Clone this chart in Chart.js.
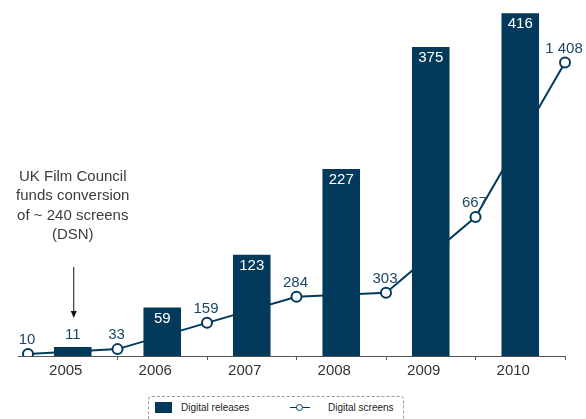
<!DOCTYPE html>
<html>
<head>
<meta charset="utf-8">
<script src="https://cdn.jsdelivr.net/npm/chart.js@4/dist/chart.umd.min.js"></script>
<style>
    body { margin: 0; background: #fff; font-family: "Liberation Sans", Arial, sans-serif; }
    #wrap { position: relative; width: 586px; height: 419px; overflow: hidden; }
    #grafico { position: absolute; left: 0; top: 0; }
    .legenda {
        position: absolute; left: 148px; top: 396px; width: 256px; height: 30px;
        border: 1px dashed #9a9a9a; border-radius: 4px; box-sizing: border-box;
        font-size: 10px; color: #222;
    }
    .legenda .item { position: absolute; top: 5px; height: 11px; line-height: 11px; }
    .swatch { position: absolute; left: 6px; top: 5px; width: 17px; height: 11px; background: #033a5b; }
    .linha { position: absolute; left: 141px; top: 10px; width: 20px; height: 1px; background: #033a5b; }
    .bola { position: absolute; left: 147px; top: 7px; width: 5px; height: 5px; border: 1px solid #033a5b; border-radius: 50%; background: #fff; }
</style>
</head>
<body>
<div id="wrap">
    <canvas id="grafico" width="586" height="390"></canvas>
    <div class="legenda">
        <div class="swatch"></div>
        <div class="item" style="left:32px">Digital releases</div>
        <div class="linha"></div>
        <div class="bola"></div>
        <div class="item" style="left:179px">Digital screens</div>
    </div>
</div>
<script>
// Dados
const anos = ['2005', '2006', '2007', '2008', '2009', '2010'];
const lancamentosDigitais = [11, 59, 123, 227, 375, 416];
const pontosTelas = ['', '', '', '', '', '', ''];
const telasDigitais = [10, 33, 159, 284, 303, 667, 1408];
const rotulosTelas = ['10', '33', '159', '284', '303', '667', '1 408'];
const notaTexto = ['UK Film Council', 'funds conversion', 'of ~ 240 screens', '(DSN)'];

const AZUL = '#033a5b';
const FONTE = '"Liberation Sans", Arial, sans-serif';

// Rótulos dos valores e nota
const pluginRotulos = {
    id: 'rotulos',
    afterDatasetsDraw(chart) {
        const ctx = chart.ctx;
        ctx.save();
        ctx.font = '15px ' + FONTE;
        ctx.textAlign = 'center';
        ctx.textBaseline = 'middle';

        // barras
        chart.getDatasetMeta(0).data.forEach((bar, i) => {
            const altura = bar.base - bar.y;
            if (altura < 25) {
                ctx.fillStyle = '#1a4766';
                ctx.fillText(String(lancamentosDigitais[i]), bar.x, bar.y - 12);
            } else {
                ctx.fillStyle = '#ffffff';
                ctx.fillText(String(lancamentosDigitais[i]), bar.x, bar.y + 11);
            }
        });

        // linha
        ctx.fillStyle = '#1a4766';
        chart.getDatasetMeta(1).data.forEach((pt, i) => {
            ctx.fillText(rotulosTelas[i], pt.x - 1, pt.y - 14);
        });

        // eixo x estendido
        const area = chart.chartArea;
        ctx.strokeStyle = '#555';
        ctx.lineWidth = 1;
        ctx.beginPath();
        ctx.moveTo(area.left - 10, area.bottom + 0.5);
        ctx.lineTo(area.right, area.bottom + 0.5);
        ctx.stroke();

        // nota UK Film Council
        const x = chart.scales.x.getPixelForValue(0);
        ctx.fillStyle = '#3c3c3c';
        notaTexto.forEach((t, i) => ctx.fillText(t, x, 177 + i * 19.3));
        ctx.strokeStyle = '#111';
        ctx.beginPath();
        ctx.moveTo(x + 1, 267);
        ctx.lineTo(x + 1, 315);
        ctx.stroke();
        ctx.fillStyle = '#111';
        ctx.beginPath();
        ctx.moveTo(x - 2, 311);
        ctx.lineTo(x + 4, 311);
        ctx.lineTo(x + 1, 318);
        ctx.closePath();
        ctx.fill();
        ctx.restore();
    }
};

new Chart(document.getElementById('grafico'), {
    type: 'bar',
    data: {
        labels: anos,
        datasets: [{
            type: 'bar',
            label: 'Digital releases',
            data: lancamentosDigitais,
            backgroundColor: AZUL,
            borderWidth: 0,
            barPercentage: 0.42,
            categoryPercentage: 1,
            grouped: false,
            xAxisID: 'x',
            yAxisID: 'y',
            order: 0,
        }, {
            type: 'line',
            label: 'Digital screens',
            data: telasDigitais,
            borderColor: AZUL,
            borderWidth: 2,
            pointRadius: 5,
            pointBorderWidth: 2,
            pointBackgroundColor: '#ffffff',
            pointBorderColor: AZUL,
            tension: 0,
            xAxisID: 'x2',
            yAxisID: 'y1',
            order: 1,
        }]
    },
    options: {
        responsive: false,
        animation: false,
        layout: { padding: { left: 28, right: 21, top: 10, bottom: 8 } },
        scales: {
            x: {
                type: 'category',
                offset: true,
                border: { display: false },
                grid: {
                    offset: true,
                    drawOnChartArea: false,
                    tickLength: 4,
                    color: (c) => (c.index === 0 || c.index >= anos.length) ? 'rgba(0,0,0,0)' : '#555',
                },
                ticks: { color: '#333', font: { size: 15, family: FONTE }, labelOffset: -7, padding: 2 },
            },
            x2: {
                type: 'category',
                labels: pontosTelas,
                offset: false,
                display: false,
            },
            y: { display: false, min: 0, max: 420 },
            y1: { display: false, min: 0, max: 1660 },
        },
        plugins: {
            legend: { display: false },
            tooltip: { enabled: false },
        }
    },
    plugins: [pluginRotulos]
});
</script>
</body>
</html>
